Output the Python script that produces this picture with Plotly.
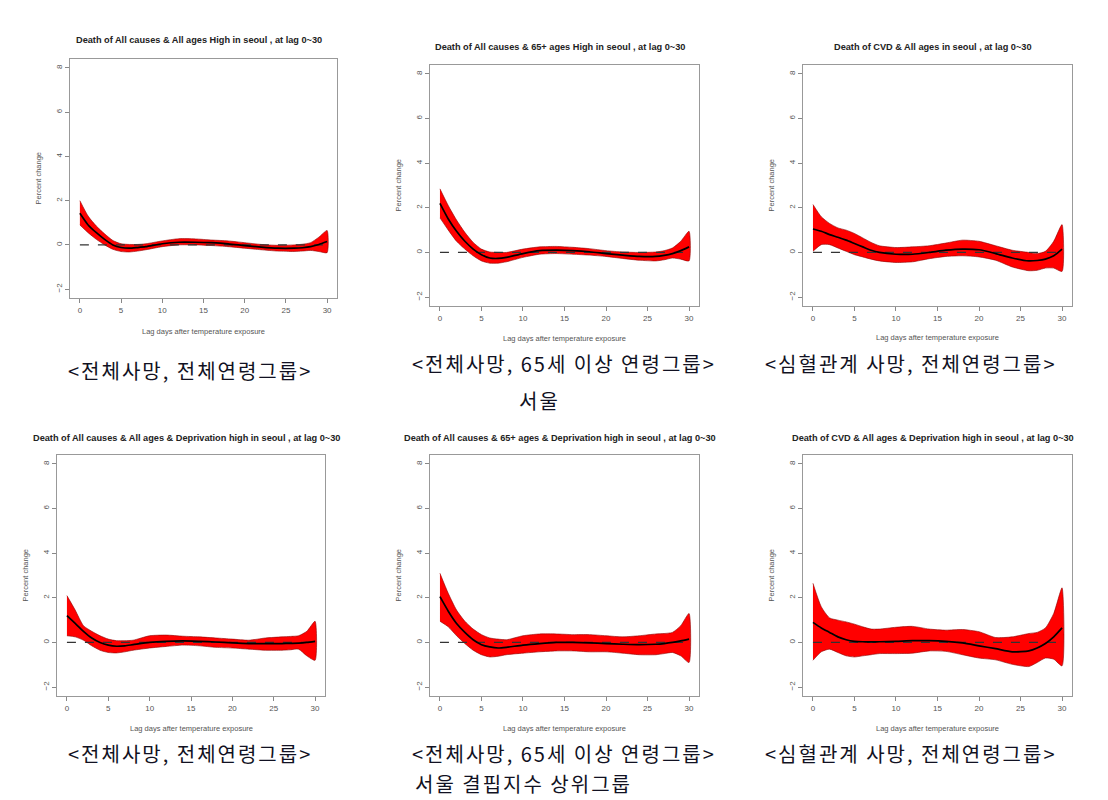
import plotly.graph_objects as go

W, H = 1108, 800

lags = [0, 1, 2, 3, 4, 5, 6, 7, 8, 10, 12, 14, 16, 18, 20, 22, 24, 26, 27, 28, 29, 30]

titles = [
    "Death of All causes & All ages High in seoul , at lag 0~30",
    "Death of All causes & 65+ ages High in seoul , at lag 0~30",
    "Death of CVD & All ages in seoul , at lag 0~30",
    "Death of All causes & All ages & Deprivation high in seoul , at lag 0~30",
    "Death of All causes & 65+ ages & Deprivation high in seoul , at lag 0~30",
    "Death of CVD & All ages & Deprivation high in seoul , at lag 0~30",
]

captions = [
    ["<전체사망, 전체연령그룹>"],
    ["<전체사망, 65세 이상 연령그룹>", "서울"],
    ["<심혈관계 사망, 전체연령그룹>"],
    ["<전체사망, 전체연령그룹>"],
    ["<전체사망, 65세 이상 연령그룹>", "서울 결핍지수 상위그룹"],
    ["<심혈관계 사망, 전체연령그룹>"],
]

p1_mid = [1.43, 0.9, 0.55, 0.25, 0.0, -0.12, -0.15, -0.12, -0.08, 0.05, 0.12, 0.12, 0.1, 0.05, -0.03, -0.1, -0.15, -0.15, -0.13, -0.08, 0.02, 0.15]
p1_hi = [2.0, 1.3, 0.85, 0.5, 0.2, 0.05, 0.02, 0.02, 0.05, 0.18, 0.28, 0.27, 0.22, 0.18, 0.1, 0.02, -0.02, 0.0, 0.03, 0.1, 0.35, 0.65]
p1_lo = [0.9, 0.55, 0.25, 0.0, -0.2, -0.3, -0.32, -0.28, -0.22, -0.08, 0.0, 0.0, -0.03, -0.08, -0.15, -0.22, -0.28, -0.3, -0.28, -0.25, -0.3, -0.35]

p2_mid = [2.2, 1.5, 0.95, 0.5, 0.15, -0.1, -0.25, -0.27, -0.22, -0.05, 0.08, 0.1, 0.08, 0.03, -0.05, -0.12, -0.18, -0.18, -0.13, -0.05, 0.08, 0.25]
p2_hi = [2.85, 2.1, 1.45, 0.9, 0.45, 0.15, 0.02, 0.0, 0.0, 0.15, 0.25, 0.27, 0.23, 0.17, 0.08, 0.02, 0.0, 0.02, 0.08, 0.2, 0.5, 0.95]
p2_lo = [1.55, 1.0, 0.5, 0.15, -0.15, -0.38, -0.48, -0.48, -0.42, -0.22, -0.08, -0.05, -0.08, -0.12, -0.18, -0.27, -0.35, -0.38, -0.33, -0.25, -0.3, -0.38]

p3_mid = [1.05, 0.95, 0.8, 0.68, 0.55, 0.4, 0.25, 0.1, 0.0, -0.08, -0.08, 0.0, 0.1, 0.15, 0.12, -0.05, -0.25, -0.38, -0.36, -0.3, -0.15, 0.15]
p3_hi = [2.15, 1.6, 1.3, 1.1, 1.0, 0.85, 0.65, 0.45, 0.3, 0.22, 0.25, 0.3, 0.42, 0.55, 0.5, 0.3, 0.1, 0.0, -0.05, 0.05, 0.5, 1.25]
p3_lo = [0.05, 0.35, 0.35, 0.2, 0.05, -0.1, -0.2, -0.3, -0.38, -0.45, -0.42, -0.28, -0.18, -0.15, -0.2, -0.35, -0.65, -0.82, -0.8, -0.7, -0.7, -0.85]

p4_mid = [1.2, 0.85, 0.5, 0.2, 0.0, -0.12, -0.17, -0.15, -0.1, 0.0, 0.05, 0.07, 0.05, 0.02, -0.02, -0.05, -0.05, -0.05, -0.04, -0.03, 0.0, 0.05]
p4_hi = [2.1, 1.45, 0.75, 0.5, 0.3, 0.15, 0.08, 0.08, 0.1, 0.3, 0.33, 0.28, 0.25, 0.2, 0.15, 0.1, 0.2, 0.25, 0.27, 0.3, 0.5, 0.95]
p4_lo = [0.3, 0.25, 0.1, -0.15, -0.35, -0.45, -0.47, -0.42, -0.35, -0.25, -0.18, -0.12, -0.15, -0.22, -0.25, -0.3, -0.35, -0.35, -0.33, -0.3, -0.6, -0.8]

p5_mid = [2.05, 1.4, 0.85, 0.45, 0.12, -0.1, -0.2, -0.25, -0.22, -0.12, -0.05, 0.0, 0.0, -0.02, -0.05, -0.08, -0.1, -0.08, -0.05, 0.0, 0.07, 0.15]
p5_hi = [3.1, 2.2, 1.45, 0.95, 0.6, 0.35, 0.2, 0.15, 0.12, 0.3, 0.38, 0.38, 0.35, 0.35, 0.3, 0.25, 0.3, 0.38, 0.4, 0.45, 0.75, 1.3]
p5_lo = [0.95, 0.7, 0.3, -0.05, -0.35, -0.55, -0.65, -0.62, -0.55, -0.48, -0.42, -0.38, -0.38, -0.42, -0.42, -0.48, -0.55, -0.55, -0.5, -0.45, -0.6, -0.9]

p6_mid = [0.9, 0.65, 0.45, 0.25, 0.12, 0.05, 0.03, 0.03, 0.03, 0.05, 0.08, 0.08, 0.05, -0.02, -0.15, -0.28, -0.42, -0.38, -0.25, -0.05, 0.25, 0.65]
p6_hi = [2.65, 1.6, 1.1, 1.0, 0.92, 0.82, 0.7, 0.6, 0.6, 0.68, 0.72, 0.6, 0.55, 0.58, 0.48, 0.22, 0.25, 0.4, 0.45, 0.65, 1.3, 2.45]
p6_lo = [-0.8, -0.42, -0.3, -0.45, -0.6, -0.65, -0.6, -0.55, -0.5, -0.5, -0.48, -0.38, -0.4, -0.55, -0.7, -0.78, -0.98, -1.08, -0.9, -0.7, -0.75, -1.05]

mids = [p1_mid, p2_mid, p3_mid, p4_mid, p5_mid, p6_mid]
his = [p1_hi, p2_hi, p3_hi, p4_hi, p5_hi, p6_hi]
los = [p1_lo, p2_lo, p3_lo, p4_lo, p5_lo, p6_lo]

x_ticks = [0, 5, 10, 15, 20, 25, 30]
y_ticks = [-2, 0, 2, 4, 6, 8]

# plot boxes in pixels: (left, right, top, bottom)
boxes = [
    (62, 329, 51, 290),
    (422, 691, 57, 298),
    (795, 1064, 57, 298),
    (49, 317, 447, 688),
    (422, 691, 447, 688),
    (795, 1064, 447, 688),
]
title_y = [32, 39, 39, 430, 430, 430]
xlab_y = [323, 330, 329, 720, 720, 720]
cap_pos = [
    [(182, 362, "center")],
    [(556, 355, "center"), (531, 392, "center")],
    [(903, 355, "center")],
    [(182, 745, "center")],
    [(556, 745, "center"), (405, 775, "left")],
    [(903, 745, "center")],
]

fig = go.Figure()
annotations = []
axis_font = dict(family="Liberation Sans, Arial, sans-serif", size=8, color="#555555")

for i in range(6):
    n = i + 1
    xa = "x" if n == 1 else f"x{n}"
    ya = "y" if n == 1 else f"y{n}"
    l, r, t, b = boxes[i]
    # band
    fig.add_trace(go.Scatter(
        x=lags + lags[::-1], y=his[i] + los[i][::-1],
        fill="toself", fillcolor="#FF0000",
        line=dict(color="#8B0000", width=0.6, shape="spline", smoothing=0.6),
        mode="lines", xaxis=xa, yaxis=ya, showlegend=False, hoverinfo="skip"))
    # reference dashed line at 0
    fig.add_trace(go.Scatter(
        x=lags, y=[0] * len(lags), mode="lines",
        line=dict(color="#333333", width=1.3, dash="dash"),
        xaxis=xa, yaxis=ya, showlegend=False, hoverinfo="skip"))
    # central estimate
    fig.add_trace(go.Scatter(
        x=lags, y=mids[i], mode="lines",
        line=dict(color="#000000", width=1.7, shape="spline", smoothing=0.6),
        xaxis=xa, yaxis=ya, showlegend=False))

    xkey = "xaxis" if n == 1 else f"xaxis{n}"
    ykey = "yaxis" if n == 1 else f"yaxis{n}"
    fig.update_layout(**{
        xkey: dict(domain=[l / W, r / W], anchor=ya, range=[-1.2, 31.2],
                   tickvals=x_ticks, ticks="outside", ticklen=4, tickcolor="#888888",
                   showline=True, linecolor="#999999", linewidth=1.2, mirror=True,
                   showgrid=False, zeroline=False, tickfont=axis_font, fixedrange=True),
        ykey: dict(domain=[1 - b / H, 1 - t / H], anchor=xa, range=[-2.4, 8.4],
                   tickvals=y_ticks, ticks="outside", ticklen=4, tickcolor="#888888",
                   tickangle=-90, showline=True, linecolor="#999999", linewidth=1.2,
                   mirror=True, showgrid=False, zeroline=False, tickfont=axis_font,
                   fixedrange=True),
    })

    cx = (l + r) / 2
    annotations.append(dict(
        text=f"<b>{titles[i]}</b>", x=(cx - 5) / W, y=1 - title_y[i] / H, xref="paper", yref="paper",
        xanchor="center", yanchor="middle", showarrow=False,
        font=dict(family="Liberation Sans, Arial, sans-serif", size=9.2, color="#222222")))
    annotations.append(dict(
        text="Lag days after temperature exposure", x=cx / W, y=1 - xlab_y[i] / H,
        xref="paper", yref="paper", xanchor="center", yanchor="middle", showarrow=False,
        font=dict(family="Liberation Sans, Arial, sans-serif", size=7.5, color="#555555")))
    annotations.append(dict(
        text="Percent change", x=(l - 32) / W, y=1 - ((t + b) / 2) / H,
        xref="paper", yref="paper", xanchor="center", yanchor="middle", showarrow=False,
        textangle=-90,
        font=dict(family="Liberation Sans, Arial, sans-serif", size=7.5, color="#555555")))
    for txt, (px, py, anc) in zip(captions[i], cap_pos[i]):
        annotations.append(dict(
            text=f'<span style="letter-spacing:2px">{txt}</span>',
            x=px / W, y=1 - py / H, xref="paper", yref="paper",
            xanchor=anc, yanchor="middle", showarrow=False,
            font=dict(family="Noto Sans CJK KR, sans-serif", size=20, color="#111122")))

fig.update_layout(
    width=W, height=H, margin=dict(l=0, r=0, t=0, b=0),
    paper_bgcolor="white", plot_bgcolor="white",
    annotations=annotations, showlegend=False)

fig.write_html("out.html", config={"displayModeBar": False})
